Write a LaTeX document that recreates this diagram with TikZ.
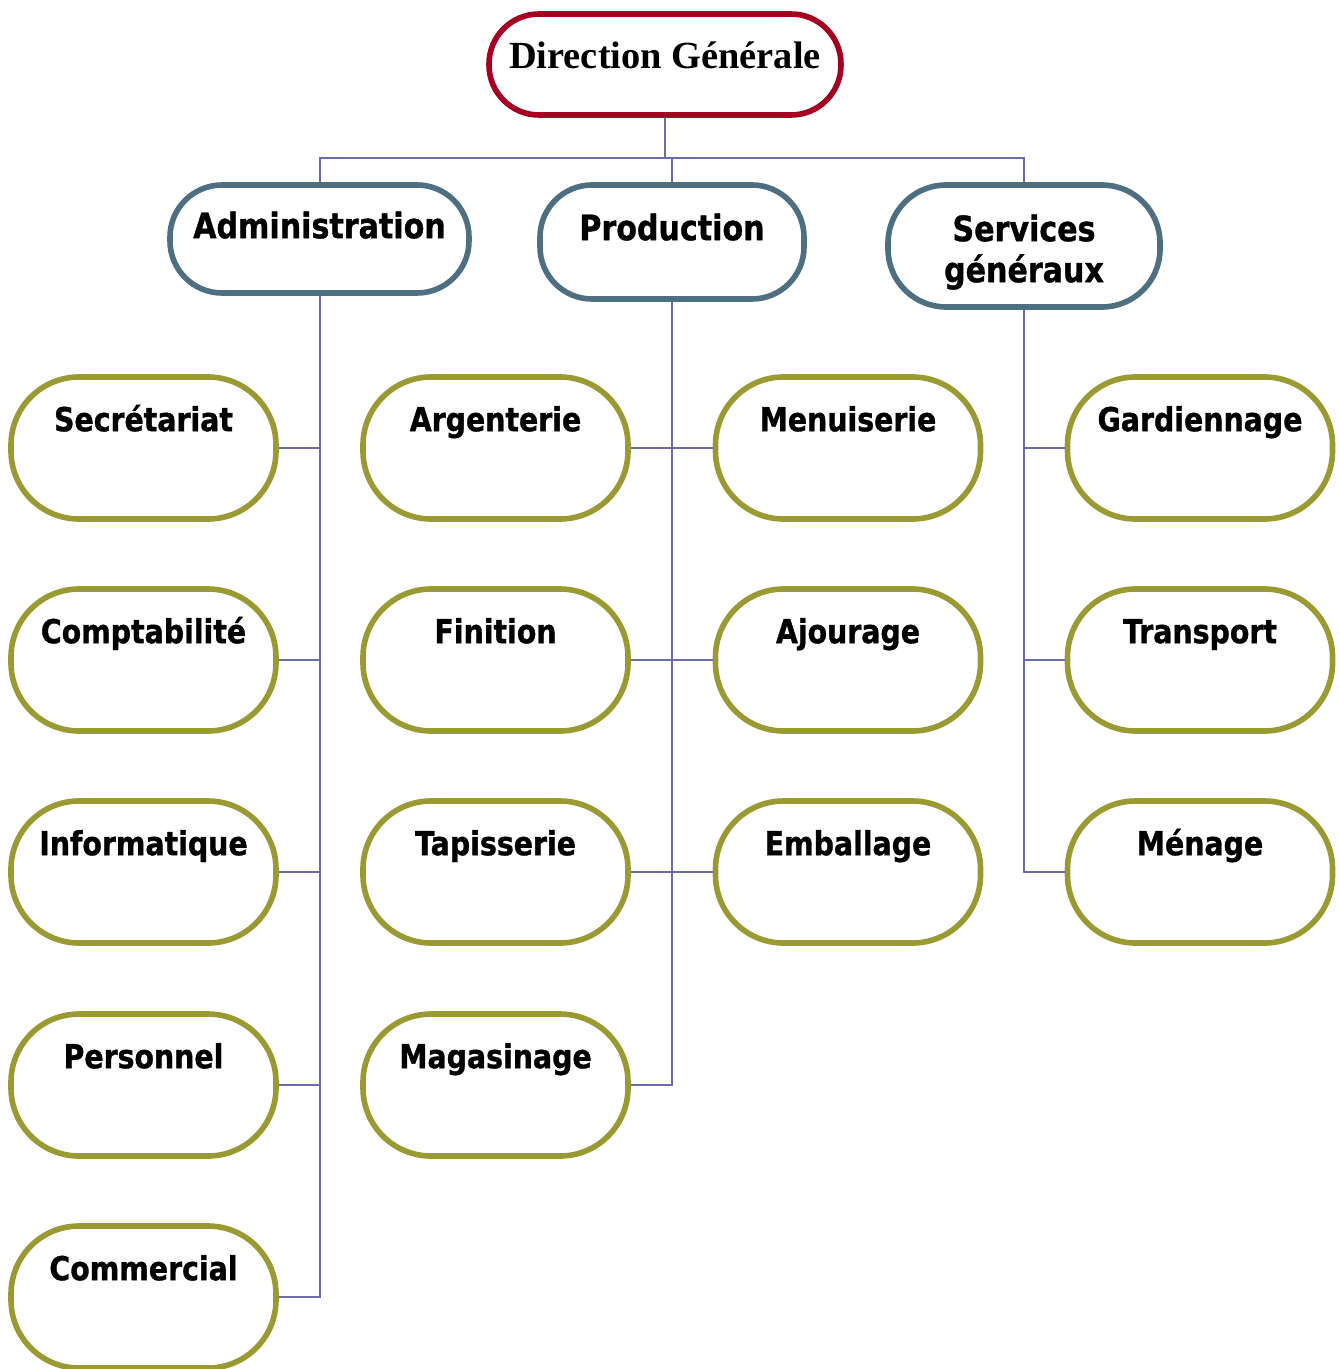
\documentclass[tikz,border=0pt]{standalone}
\usepackage{fontspec}
\setmainfont{Liberation Serif}
\newfontfamily\vfont{DejaVu Sans}[FakeStretch=0.86, BoldFeatures={FakeBold=1}]
\definecolor{dgred}{HTML}{A50021}
\definecolor{hdblue}{HTML}{4E6E82}
\definecolor{olive}{HTML}{9A9A33}
\definecolor{conn}{HTML}{6C6CA8}
\begin{document}
\begin{tikzpicture}[x=0.5pt,y=-0.5pt,
  box/.style={draw, fill=white, line width=2.8pt, inner sep=0pt},
  topbox/.style={box, draw=dgred, minimum width=176pt, minimum height=50.5pt, rounded corners=25pt},
  hdbox/.style={box, draw=hdblue, rounded corners=26pt},
  leaf/.style={box, draw=olive, minimum width=132.5pt, minimum height=71pt, rounded corners=34pt},
  leaflbl/.style={anchor=base, inner sep=0pt, font=\vfont\bfseries\fontsize{16.5}{19}\selectfont},
  hdlbl/.style={inner sep=0pt, font=\vfont\bfseries\fontsize{17.5}{20.5}\selectfont, align=center},
  toplbl/.style={anchor=base, inner sep=0pt, font=\bfseries\fontsize{19.2}{22}\selectfont},
  link/.style={draw=conn, line width=1pt}]
\useasboundingbox (0,0) rectangle (1339,1369);

% top
\node[topbox] (dg) at (665,64.5) {};
\node[toplbl] (dgl) at ([yshift=-28.5pt]dg.north) {Direction Générale};

% headers
\node[hdbox, minimum width=149.5pt, minimum height=54pt] (adm) at (319.5,239) {};
\node[hdlbl, anchor=base] (adml) at ([yshift=-28pt]adm.north) {Administration};
\node[hdbox, minimum width=132pt, minimum height=57pt] (prod) at (672,242) {};
\node[hdlbl, anchor=base] (prodl) at ([yshift=-29pt]prod.north) {Production};
\node[hdbox, minimum width=136pt, minimum height=61pt, rounded corners=29pt] (serv) at (1024,246) {};
\node[hdlbl, anchor=north] (servl) at ([yshift=-16pt]serv.north) {Services\\généraux};

% administration column
\foreach \n/\t/\y in {sec/Secrétariat/448, cpt/Comptabilité/660, inf/Informatique/872, per/Personnel/1085, com/Commercial/1297}{
  \node[leaf] (\n) at (143.5,\y) {};
  \node[leaflbl] (\n l) at ([yshift=-28.5pt]\n.north) {\t};
}
% production columns
\foreach \n/\t/\y in {arg/Argenterie/448, fin/Finition/660, tap/Tapisserie/872, mag/Magasinage/1085}{
  \node[leaf] (\n) at (495.5,\y) {};
  \node[leaflbl] (\n l) at ([yshift=-28.5pt]\n.north) {\t};
}
\foreach \n/\t/\y in {men/Menuiserie/448, ajo/Ajourage/660, emb/Emballage/872}{
  \node[leaf] (\n) at (848,\y) {};
  \node[leaflbl] (\n l) at ([yshift=-28.5pt]\n.north) {\t};
}
% services column
\foreach \n/\t/\y in {gar/Gardiennage/448, tra/Transport/660, mna/Ménage/872}{
  \node[leaf] (\n) at (1200,\y) {};
  \node[leaflbl] (\n l) at ([yshift=-28.5pt]\n.north) {\t};
}

% connectors
\coordinate (j0) at (665,158);
\path[link] (dg.south) -- (j0);
\path[link] (adm.north) |- (j0);
\path[link] (serv.north) |- (j0);
\path[link] (prod.north) -- (prod.north |- j0);

\path[link] (adm.south) |- (com.east);
\foreach \n in {sec,cpt,inf,per}{
  \path[link] (\n.east) -- (\n.east -| adm.south);
}
\path[link] (prod.south) |- (mag.east);
\path[link] (arg.east) -- (men.west);
\path[link] (fin.east) -- (ajo.west);
\path[link] (tap.east) -- (emb.west);
\path[link] (serv.south) |- (mna.west);
\path[link] (gar.west) -- (gar.west -| serv.south);
\path[link] (tra.west) -- (tra.west -| serv.south);
\end{tikzpicture}
\end{document}
